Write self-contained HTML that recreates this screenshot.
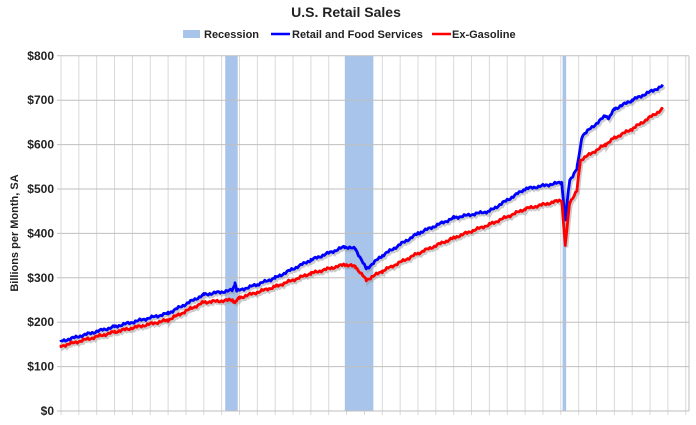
<!DOCTYPE html>
<html><head><meta charset="utf-8"><style>
body{margin:0;background:#fff;width:696px;height:420px;overflow:hidden;font-family:"Liberation Sans",Arial,sans-serif}
</style></head><body>
<svg id="s" width="696" height="420" xmlns="http://www.w3.org/2000/svg" font-family="Liberation Sans, Arial, sans-serif">
<text x="346" y="17" text-anchor="middle" font-size="14" font-weight="bold" fill="#222">U.S. Retail Sales</text>
<rect x="183" y="30" width="17" height="8" fill="#a9c4ea"/>
<text x="204" y="38" font-size="11" font-weight="bold" fill="#222">Recession</text>
<line x1="271" y1="34" x2="290" y2="34" stroke="#0000ff" stroke-width="2.5"/>
<text x="292" y="38" font-size="11" font-weight="bold" fill="#222">Retail and Food Services</text>
<line x1="432" y1="34" x2="451" y2="34" stroke="#ff0000" stroke-width="2.5"/>
<text x="452" y="38" font-size="11" font-weight="bold" fill="#222">Ex-Gasoline</text>
<text transform="translate(18,233) rotate(-90)" text-anchor="middle" font-size="11" font-weight="bold" fill="#222">Billions per Month, SA</text>
<g id="g"></g>
</svg>
<script>
var g=document.getElementById('g'),h='';
var X0=61,PX=17.85,Y0=411,PY=0.444;
function x(t){return X0+(t-1992)*PX}function y(v){return Y0-v*PY}
for(var i=0;i<=35;i++){var xx=X0+i*PX;h+='<line x1="'+xx+'" y1="56" x2="'+xx+'" y2="415" stroke="#d9d9d9" stroke-width="1"/>';}
h+='<rect x="'+x(2001.2)+'" y="56" width="'+(x(2001.9)-x(2001.2))+'" height="355" fill="#a9c4ea"/>';
h+='<rect x="'+x(2007.9)+'" y="56" width="'+(x(2009.5)-x(2007.9))+'" height="355" fill="#a9c4ea"/>';
h+='<rect x="'+x(2020.1)+'" y="56" width="'+(x(2020.3)-x(2020.1))+'" height="355" fill="#a9c4ea"/>';
for(var v=0;v<=800;v+=100){var yy=y(v);h+='<line x1="57" y1="'+yy+'" x2="689" y2="'+yy+'" stroke="#bfbfbf" stroke-width="1"/>';
h+='<text x="54" y="'+(yy+4)+'" text-anchor="end" font-size="12" font-weight="bold" fill="#222">$'+v+'</text>';}
h+='<line x1="689" y1="56" x2="689" y2="411" stroke="#bfbfbf" stroke-width="1"/>';
var B=[[1992,157],[1995,190],[1998,220],[2000,262],[2001.6,272],[2001.75,288],[2001.85,270],[2003,285],[2004,300],[2006,340],[2007.9,370],[2008.5,365],[2009.1,320],[2010,350],[2012,400],[2014,435],[2016,450],[2018,500],[2020.05,515],[2020.25,430],[2020.5,520],[2020.9,545],[2021.2,620],[2022.5,665],[2022.7,660],[2023,680],[2024,700],[2025.7,732]];
var R=[[1992,146],[1995,178],[1998,205],[2000,245],[2001.6,250],[2001.75,245],[2002,255],[2004,280],[2006,310],[2007.9,330],[2008.5,325],[2009.1,295],[2010,315],[2012,355],[2014,390],[2016,420],[2018,455],[2020.05,475],[2020.25,372],[2020.5,470],[2020.9,495],[2021.1,565],[2022.5,600],[2023,615],[2024,635],[2025.7,680]];
function interp(P,t){for(var i=0;i<P.length-1;i++)if(t<=P[i+1][0]){var a=P[i],b=P[i+1];return a[1]+(b[1]-a[1])*(t-a[0])/(b[0]-a[0]);}return P[P.length-1][1];}
function path(P,seed){var s='',t=1992;var pts=[];while(t<=2025.7){pts.push(t);t+=1/12;}
P.forEach(function(p){pts.push(p[0])});pts.sort(function(a,b){return a-b});
pts.forEach(function(t,i){var n=Math.sin(i*2.3+seed)*2+Math.sin(i*0.7+seed)*1.5;s+=(i?'L':'M')+x(t).toFixed(1)+' '+y(interp(P,t)+n).toFixed(1);});return s;}
var pb=path(B,1),pr=path(R,2);
h+='<path d="'+pr+'" transform="translate(1.5,2)" fill="none" stroke="#999" stroke-opacity="0.5" stroke-width="3"/>';
h+='<path d="'+pb+'" transform="translate(1.5,2)" fill="none" stroke="#999" stroke-opacity="0.5" stroke-width="3"/>';
h+='<path d="'+pb+'" fill="none" stroke="#0000ff" stroke-width="2.8" stroke-linejoin="round"/>';
h+='<path d="'+pr+'" fill="none" stroke="#ff0000" stroke-width="2.8" stroke-linejoin="round"/>';
g.innerHTML=h;
</script>
</body></html>
